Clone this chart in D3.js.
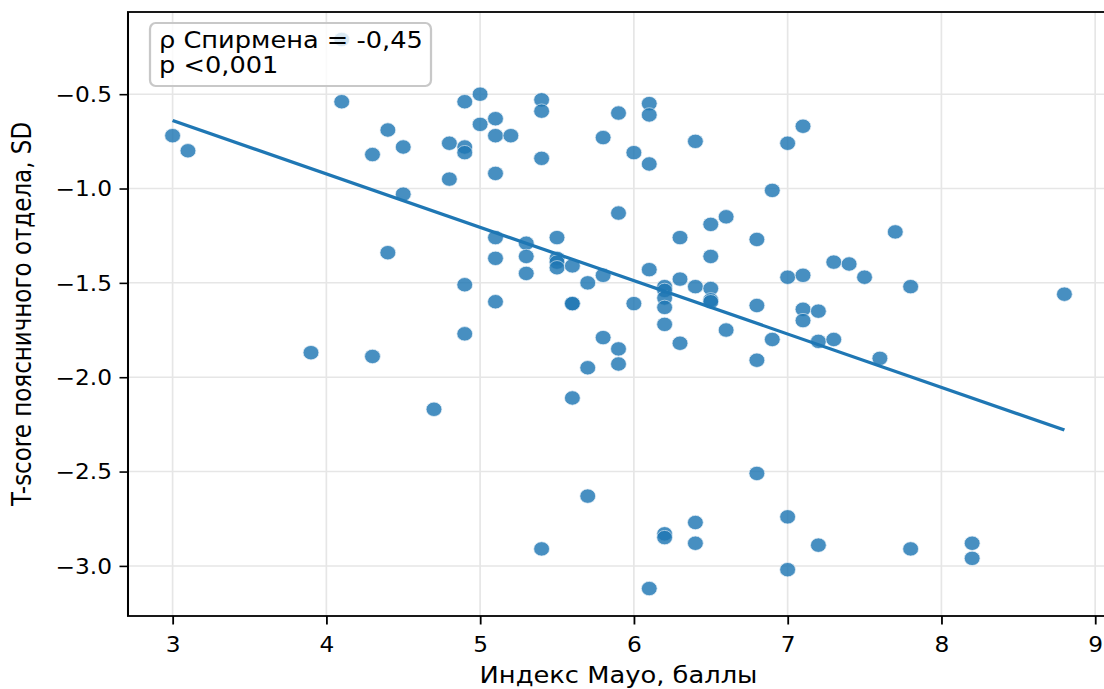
<!DOCTYPE html>
<html>
<head>
<meta charset="utf-8">
<script src="https://cdn.jsdelivr.net/npm/d3@7"></script>
<style>
  html, body { margin: 0; padding: 0; background: #fff; }
  svg { display: block; }
  text { font-family: "DejaVu Sans", sans-serif; fill: #000; }
</style>
</head>
<body>
<svg id="chart"></svg>
<script>
// Mayo index (x) and lumbar T-score (y), one entry per patient
const mayo = [
  3.0, 3.1, 3.9, 4.1, 4.1, 4.3, 4.3, 4.4, 4.4, 4.5, 4.5, 4.7, 4.8, 4.8,
  4.9, 4.9, 4.9, 4.9, 4.9, 5.0, 5.0, 5.1, 5.1, 5.1, 5.1, 5.1, 5.1, 5.2,
  5.3, 5.3, 5.3, 5.4, 5.4, 5.4, 5.4, 5.5, 5.5, 5.5, 5.5, 5.6, 5.6, 5.6,
  5.6, 5.7, 5.7, 5.7, 5.8, 5.8, 5.8, 5.9, 5.9, 5.9, 5.9, 6.0, 6.0, 6.1,
  6.1, 6.1, 6.1, 6.1, 6.2, 6.2, 6.2, 6.2, 6.2, 6.2, 6.2, 6.3, 6.3, 6.3,
  6.4, 6.4, 6.4, 6.4, 6.5, 6.5, 6.5, 6.5, 6.5, 6.6, 6.6, 6.8, 6.8, 6.8,
  6.8, 6.9, 6.9, 7.0, 7.0, 7.0, 7.0, 7.1, 7.1, 7.1, 7.1, 7.2, 7.2, 7.2,
  7.3, 7.3, 7.4, 7.5, 7.6, 7.7, 7.8, 7.8, 8.2, 8.2, 8.8
];
const tScore = [
  -0.72, -0.80, -1.87, -0.21, -0.54, -0.82, -1.89, -0.69, -1.34, -0.78, -1.03, -2.17, -0.76, -0.95,
  -0.54, -0.78, -0.81, -1.51, -1.77, -0.50, -0.66, -0.63, -0.72, -0.92, -1.26, -1.37, -1.60, -0.72,
  -1.29, -1.36, -1.45, -0.53, -0.59, -0.84, -2.91, -1.26, -1.37, -1.39, -1.42, -1.41, -1.61, -1.61,
  -2.11, -1.50, -1.95, -2.63, -0.73, -1.46, -1.79, -0.60, -1.13, -1.85, -1.93, -0.81, -1.61, -0.55,
  -0.61, -0.87, -1.43, -3.12, -1.52, -1.54, -1.58, -1.63, -1.72, -2.83, -2.85, -1.26, -1.48, -1.82,
  -0.75, -1.52, -2.77, -2.88, -1.19, -1.36, -1.53, -1.59, -1.60, -1.15, -1.75, -1.27, -1.62, -1.91,
  -2.51, -1.01, -1.80, -0.76, -1.47, -2.74, -3.02, -0.67, -1.46, -1.64, -1.70, -1.65, -1.81, -2.89,
  -1.39, -1.80, -1.40, -1.47, -1.90, -1.23, -1.52, -2.91, -2.88, -2.96, -1.56
];

// regression line ends
const fitX = [3.0, 8.8];
const fitY = [-0.64, -2.28];

const xTicks = [3, 4, 5, 6, 7, 8, 9];
const yTicks = [-3.0, -2.5, -2.0, -1.5, -1.0, -0.5];
const legendLines = ["ρ Спирмена = -0,45", "p <0,001"];
const xLabel = "Индекс Мауо, баллы";
const yLabel = "T-score поясничного отдела, SD";

const W = 1104, H = 689;
const K = 1.13;             // the picture is stretched sideways
const sx = v => v / K;      // screen x -> svg x
const box = { left: 128, top: 12, right: 1109, bottom: 616 };
const blue = "#1f77b4";

const svg = d3.select("#chart")
  .attr("width", W).attr("height", H)
  .attr("viewBox", `0 0 ${W / K} ${H}`)
  .attr("preserveAspectRatio", "none");

// matplotlib style 5% margins
const pad = ([lo, hi]) => [lo - (hi - lo) * 0.05, hi + (hi - lo) * 0.05];
const x = d3.scaleLinear().domain(pad(d3.extent(mayo))).range([sx(box.left), sx(box.right)]);
const y = d3.scaleLinear().domain(pad(d3.extent(tScore))).range([box.bottom, box.top]);

// grid
const grid = svg.append("g").attr("stroke", "#e6e6e6").attr("stroke-width", 1.5);
grid.selectAll(".gx").data(xTicks).enter().append("line")
  .attr("x1", d => x(d)).attr("x2", d => x(d))
  .attr("y1", box.top).attr("y2", box.bottom);
grid.selectAll(".gy").data(yTicks).enter().append("line")
  .attr("x1", sx(box.left)).attr("x2", sx(box.right))
  .attr("y1", d => y(d)).attr("y2", d => y(d));

// points
const pts = mayo.map((m, i) => ({ m, t: tScore[i] }));
svg.append("g").selectAll("ellipse")
  .data(pts).enter().append("ellipse")
  .attr("cx", d => x(d.m))
  .attr("cy", d => y(d.t))
  .attr("rx", 7)
  .attr("ry", 7.2)
  .attr("fill", blue)
  .attr("stroke", "#e8f0f7")
  .attr("stroke-width", 0.7)
  .attr("opacity", 0.82);

// regression line
svg.append("path")
  .datum(fitX.map((v, i) => [v, fitY[i]]))
  .attr("fill", "none")
  .attr("stroke", blue)
  .attr("stroke-width", 3.2)
  .attr("d", d3.line().x(d => x(d[0])).y(d => y(d[1])));

// frame
svg.append("rect")
  .attr("x", sx(box.left)).attr("y", box.top)
  .attr("width", sx(box.right - box.left)).attr("height", box.bottom - box.top)
  .attr("fill", "none").attr("stroke", "#000").attr("stroke-width", 1.8);

// x axis
const xAxis = svg.append("g")
  .attr("transform", `translate(0,${box.bottom})`)
  .call(d3.axisBottom(x).tickValues(xTicks).tickSize(8.5).tickFormat(d3.format("d")));
xAxis.select(".domain").remove();
xAxis.selectAll(".tick line").attr("stroke-width", 1.6);
xAxis.selectAll(".tick text")
  .attr("y", 36).attr("dy", null)
  .attr("font-size", 20.6).attr("font-family", "DejaVu Sans").attr("fill", "#000");

// y axis
const yAxis = svg.append("g")
  .attr("transform", `translate(${sx(box.left)},0)`)
  .call(d3.axisLeft(y).tickValues(yTicks).tickSize(sx(8.5)).tickFormat(d3.format(".1f")));
yAxis.select(".domain").remove();
yAxis.selectAll(".tick line").attr("stroke-width", 1.6);
yAxis.selectAll(".tick text")
  .attr("x", -sx(16)).attr("dy", "0.36em")
  .attr("font-size", 20.6).attr("font-family", "DejaVu Sans").attr("fill", "#000");

// axis labels
svg.append("text")
  .attr("x", sx((box.left + box.right) / 2)).attr("y", 683)
  .attr("text-anchor", "middle").attr("font-size", 22.8)
  .text(xLabel);
svg.append("text")
  .attr("transform", `translate(${sx(31)},${(box.top + box.bottom) / 2}) rotate(-90)`)
  .attr("text-anchor", "middle").attr("font-size", 23)
  .text(yLabel);

// legend box
const legend = svg.append("g");
legend.append("rect")
  .attr("x", sx(150)).attr("y", 23)
  .attr("width", sx(281)).attr("height", 63)
  .attr("rx", 5).attr("ry", 6)
  .attr("fill", "#fff").attr("fill-opacity", 0.8)
  .attr("stroke", "#c8c8c8").attr("stroke-width", 2);
legend.selectAll("text").data(legendLines).enter().append("text")
  .attr("x", sx(159))
  .attr("y", (d, i) => 48 + i * 25)
  .attr("font-size", 22.7)
  .text(d => d);
</script>
</body>
</html>
